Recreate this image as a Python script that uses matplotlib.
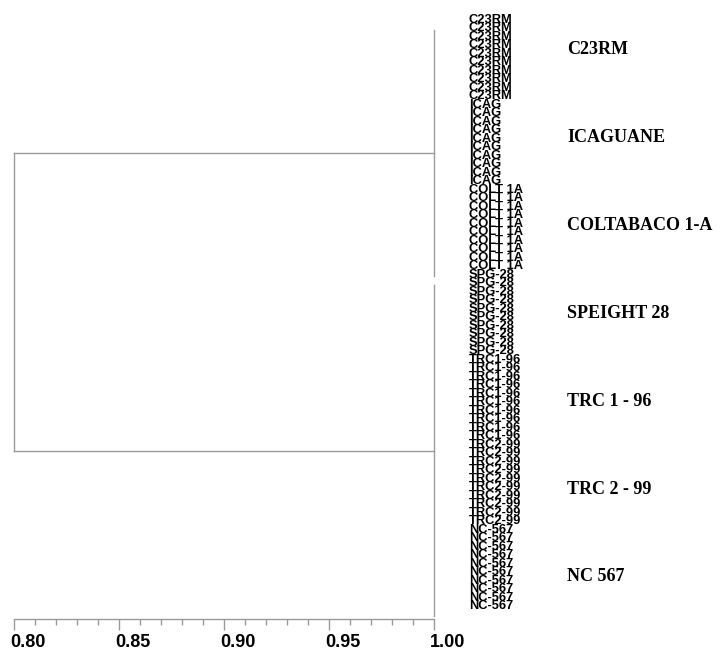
import matplotlib
matplotlib.use("Agg")
import matplotlib.pyplot as plt
import matplotlib.transforms as mtransforms
import numpy as np

# Variedades (grupos) y código de cada hoja del dendrograma
VARIEDADES = ["C23RM", "ICAGUANE", "COLTABACO 1-A", "SPEIGHT 28",
              "TRC 1 - 96", "TRC 2 - 99", "NC 567"]
CODIGOS = ["C23RM", "ICAG", "COLT 1A", "SPG-28", "TRC1-96", "TRC2-99", "NC-567"]
N_POR_VARIEDAD = 10

# Dos conglomerados principales (índices de variedad) y sus similitudes
CLUSTERS = [[0, 1, 2], [3, 4, 5, 6]]
SIM_DENTRO = 1.00      # todas las hojas de un conglomerado idénticas
SIM_UNION = 0.80       # unión de los dos conglomerados

XTICKS = [0.80, 0.85, 0.90, 0.95, 1.00]

LINE_COLOR = "#9a9a9a"


def main() -> None:
    W, H = 721, 654
    fig = plt.figure(figsize=(W / 100, H / 100), dpi=100)

    n_hojas = len(CODIGOS) * N_POR_VARIEDAD
    # ejes: x 0.80 -> px 14, 1.00 -> px 434 ; eje inferior en px 619
    left, right, top, bottom = 14, 434, 14, 619
    pitch = 8.5
    y0 = 30
    ax = fig.add_axes([left / W, 1 - bottom / H, (right - left) / W, (bottom - top) / H])
    ax.set_xlim(0.80, 1.00)
    ax.set_ylim((bottom - y0) / pitch, (top - y0) / pitch)

    hojas = np.arange(n_hojas)

    # Dendrograma
    medios = []
    for cl in CLUSTERS:
        ini = cl[0] * N_POR_VARIEDAD
        fin = (cl[-1] + 1) * N_POR_VARIEDAD - 1
        ax.plot([SIM_DENTRO, SIM_DENTRO], [hojas[ini], hojas[fin]],
                color=LINE_COLOR, lw=1, clip_on=False)
        medio = (hojas[ini] + hojas[fin]) / 2
        medios.append(medio)
        ax.plot([SIM_UNION, SIM_DENTRO], [medio, medio], color=LINE_COLOR, lw=1, clip_on=False)
    ax.plot([SIM_UNION, SIM_UNION], medios, color=LINE_COLOR, lw=1, clip_on=False)

    # Etiquetas de las hojas
    for k, cod in enumerate(CODIGOS):
        for j in range(N_POR_VARIEDAD):
            i = k * N_POR_VARIEDAD + j
            ax.annotate(cod, xy=(SIM_DENTRO, hojas[i]), xytext=(25, 7.5),
                        textcoords="offset points", va="center", ha="left",
                        fontsize=9.3, family="Liberation Sans", fontweight="bold",
                        color="black", annotation_clip=False)

    # Nombres de variedad: repartidos un poco más que los grupos de hojas
    pos_grupo = np.linspace(2.35, 64.35, len(VARIEDADES))
    for k, nombre in enumerate(VARIEDADES):
        ax.annotate(nombre, xy=(SIM_DENTRO, pos_grupo[k]), xytext=(96, 0),
                    textcoords="offset points", va="center", ha="left",
                    fontsize=13, family="Liberation Serif", fontweight="bold",
                    color="black", annotation_clip=False)

    # Eje x
    for s in ["top", "right", "left"]:
        ax.spines[s].set_visible(False)
    ax.spines["bottom"].set_color(LINE_COLOR)
    ax.spines["bottom"].set_linewidth(1)
    ax.set_yticks([])
    ax.set_xticks(XTICKS)
    ax.set_xticklabels([f"{v:.2f}" for v in XTICKS], fontsize=13,
                       family="Liberation Sans", fontweight="bold", ha="left")
    ax.set_xticks(np.arange(0.80, 1.0001, 0.01), minor=True)
    ax.tick_params(axis="x", which="major", length=8, width=1, color=LINE_COLOR, pad=3)
    ax.tick_params(axis="x", which="minor", length=4.5, width=1, color=LINE_COLOR)
    off = mtransforms.ScaledTranslation(-4 / 100, 0, fig.dpi_scale_trans)
    for lab in ax.get_xticklabels():
        lab.set_transform(lab.get_transform() + off)

    fig.savefig("out.png", dpi=100, facecolor="white")
    plt.close(fig)


if __name__ == "__main__":
    main()
